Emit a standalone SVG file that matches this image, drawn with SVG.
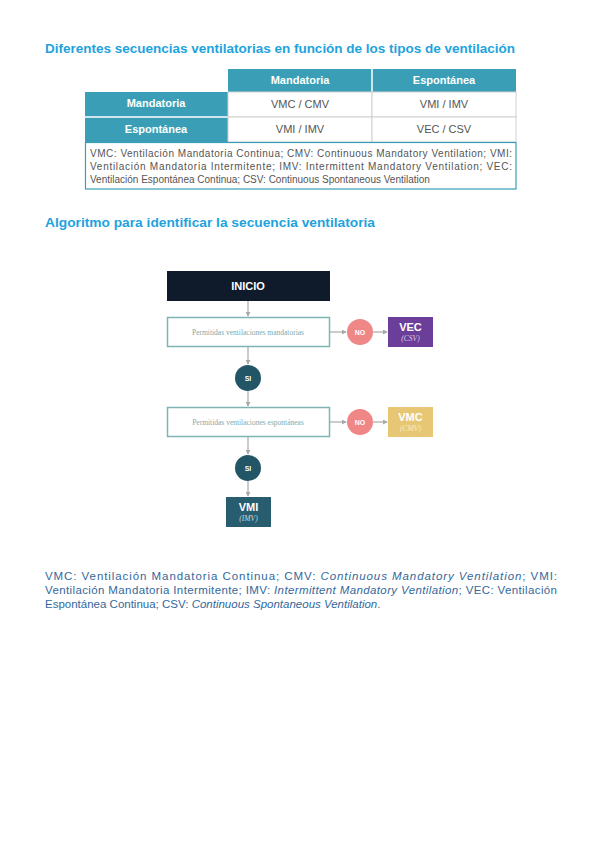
<svg xmlns="http://www.w3.org/2000/svg" width="601" height="848" viewBox="0 0 601 848">
<defs>
<style>
.title{font-family:"Liberation Sans",Arial,sans-serif;font-weight:bold;font-size:12.5px;fill:#1ea3de}
.th{font-family:"Liberation Sans",Arial,sans-serif;font-weight:bold;font-size:11px;fill:#ffffff;text-anchor:middle}
.td{font-family:"Liberation Sans",Arial,sans-serif;font-size:11px;fill:#555555;text-anchor:middle}
.note{font-family:"Liberation Sans",Arial,sans-serif;font-size:10px;fill:#555555}
.foot{font-family:"Liberation Sans",Arial,sans-serif;font-size:11.5px;fill:#34689c}
.teal{fill:#3a9fb6}
.cell{fill:#ffffff;stroke:#d0d0d0;stroke-width:1}
.conn{stroke:#a8a8a8;stroke-width:1.2;fill:none;marker-end:url(#ah)}
.q{fill:#ffffff;stroke:#7fb3b4;stroke-width:1.5}
.qt{font-family:"Liberation Serif","Times New Roman",serif;font-size:7.5px;fill:#7fa9ab;text-anchor:middle}
.ct{font-family:"Liberation Sans",Arial,sans-serif;font-weight:bold;font-size:7px;fill:#ffffff;text-anchor:middle}
.rt{font-family:"Liberation Sans",Arial,sans-serif;font-weight:bold;font-size:11px;fill:#ffffff;text-anchor:middle}
.rs{font-family:"Liberation Serif","Times New Roman",serif;font-style:italic;font-size:7.5px;text-anchor:middle}
</style>
<marker id="ah" viewBox="0 0 6 6" refX="5" refY="3" markerWidth="5" markerHeight="5" orient="auto" markerUnits="userSpaceOnUse">
<path d="M0,0 L6,3 L0,6 z" fill="#a8a8a8"/>
</marker>
</defs>
<rect width="601" height="848" fill="#ffffff"/>

<text class="title" x="45" y="53" textLength="470" lengthAdjust="spacingAndGlyphs">Diferentes secuencias ventilatorias en función de los tipos de ventilación</text>

<g id="table">
<rect class="teal" x="228" y="69" width="288" height="23"/>
<line x1="372" y1="69" x2="372" y2="92" stroke="#ffffff" stroke-width="1.5"/>
<text class="th" x="300" y="84">Mandatoria</text>
<text class="th" x="444" y="84">Espontánea</text>
<rect class="teal" x="85" y="92" width="143" height="50"/>
<line x1="85" y1="117" x2="228" y2="117" stroke="#ffffff" stroke-width="1.5"/>
<text class="th" x="156" y="107">Mandatoria</text>
<text class="th" x="156" y="133">Espontánea</text>
<rect class="cell" x="228" y="92" width="144" height="25"/>
<rect class="cell" x="372" y="92" width="144" height="25"/>
<rect class="cell" x="228" y="117" width="144" height="25"/>
<rect class="cell" x="372" y="117" width="144" height="25"/>
<text class="td" x="300" y="108">VMC / CMV</text>
<text class="td" x="444" y="108">VMI / IMV</text>
<text class="td" x="300" y="133">VMI / IMV</text>
<text class="td" x="444" y="133">VEC / CSV</text>
<rect x="85.5" y="142.5" width="430.5" height="46.5" fill="#ffffff" stroke="#3a9fb6" stroke-width="1.2"/>
<text class="note" x="90" y="157" textLength="422" lengthAdjust="spacing">VMC: Ventilación Mandatoria Continua; CMV: Continuous Mandatory Ventilation; VMI:</text>
<text class="note" x="90" y="170" textLength="422" lengthAdjust="spacing">Ventilación Mandatoria Intermitente; IMV: Intermittent Mandatory Ventilation; VEC:</text>
<text class="note" x="90" y="183">Ventilación Espontánea Continua; CSV: Continuous Spontaneous Ventilation</text>
</g>

<text class="title" x="45" y="227" textLength="330" lengthAdjust="spacingAndGlyphs">Algoritmo para identificar la secuencia ventilatoria</text>

<g id="connectors">
<line class="conn" x1="248" y1="301" x2="248" y2="316"/>
<line class="conn" x1="330" y1="332" x2="346" y2="332"/>
<line class="conn" x1="373" y1="332" x2="387" y2="332"/>
<line class="conn" x1="248" y1="347" x2="248" y2="364"/>
<line class="conn" x1="248" y1="391" x2="248" y2="406"/>
<line class="conn" x1="330" y1="422" x2="346" y2="422"/>
<line class="conn" x1="373" y1="422" x2="387" y2="422"/>
<line class="conn" x1="248" y1="437" x2="248" y2="454"/>
<line class="conn" x1="248" y1="481" x2="248" y2="496"/>
</g>

<g id="inicio">
<rect x="167" y="271" width="163" height="30" fill="#0f1b2b"/>
<text class="rt" x="248" y="290" font-size="11">INICIO</text>
</g>
<g id="q1">
<rect class="q" x="167.5" y="317.5" width="162" height="29"/>
<text class="qt" x="248" y="334.5">Permitidas ventilaciones mandatorias</text>
</g>
<g id="no1">
<circle cx="360" cy="332" r="13" fill="#f08787"/>
<text class="ct" x="360" y="334.5">NO</text>
</g>
<g id="vec">
<rect x="388" y="317" width="45" height="30" fill="#6b3f99"/>
<text class="rt" x="410.5" y="331">VEC</text>
<text class="rs" x="410.5" y="341" fill="#d8c8ea">(CSV)</text>
</g>
<g id="si1">
<circle cx="248" cy="378" r="13" fill="#225566"/>
<text class="ct" x="248" y="380.5">SI</text>
</g>
<g id="q2">
<rect class="q" x="167.5" y="407.5" width="162" height="29"/>
<text class="qt" x="248" y="424.5">Permitidas ventilaciones espontáneas</text>
</g>
<g id="no2">
<circle cx="360" cy="422" r="13" fill="#f08787"/>
<text class="ct" x="360" y="424.5">NO</text>
</g>
<g id="vmc">
<rect x="388" y="407" width="45" height="30" fill="#e8c774"/>
<text class="rt" x="410.5" y="421">VMC</text>
<text class="rs" x="410.5" y="431" fill="#f8ecc8">(CMV)</text>
</g>
<g id="si2">
<circle cx="248" cy="468" r="13" fill="#225566"/>
<text class="ct" x="248" y="470.5">SI</text>
</g>
<g id="vmi">
<rect x="226" y="497" width="45" height="30" fill="#275d6e"/>
<text class="rt" x="248.5" y="511">VMI</text>
<text class="rs" x="248.5" y="521" fill="#c8dde2">(IMV)</text>
</g>

<text class="foot" x="45" y="580" textLength="512" lengthAdjust="spacing">VMC: Ventilación Mandatoria Continua; CMV: <tspan font-style="italic">Continuous Mandatory Ventilation</tspan>; VMI:</text>
<text class="foot" x="45" y="594" textLength="512" lengthAdjust="spacing">Ventilación Mandatoria Intermitente; IMV: <tspan font-style="italic">Intermittent Mandatory Ventilation</tspan>; VEC: Ventilación</text>
<text class="foot" x="45" y="608">Espontánea Continua; CSV: <tspan font-style="italic">Continuous Spontaneous Ventilation</tspan>.</text>
</svg>
